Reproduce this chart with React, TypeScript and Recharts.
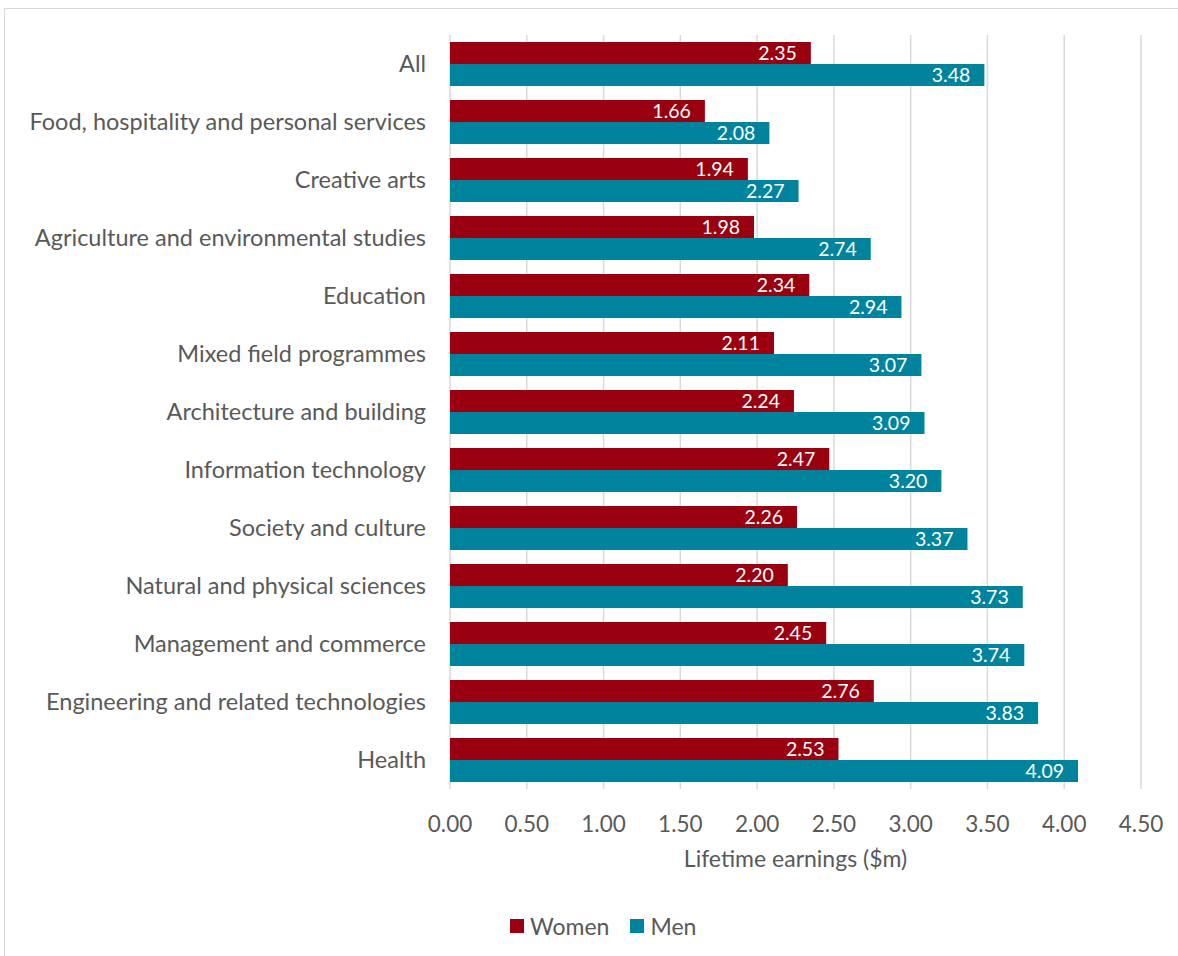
import { Bar, BarChart, CartesianGrid, LabelList, XAxis, YAxis } from "recharts";

const fields = [
  "All",
  "Food, hospitality and personal services",
  "Creative arts",
  "Agriculture and environmental studies",
  "Education",
  "Mixed field programmes",
  "Architecture and building",
  "Information technology",
  "Society and culture",
  "Natural and physical sciences",
  "Management and commerce",
  "Engineering and related technologies",
  "Health",
];
const women = [2.35, 1.66, 1.94, 1.98, 2.34, 2.11, 2.24, 2.47, 2.26, 2.2, 2.45, 2.76, 2.53];
const men = [3.48, 2.08, 2.27, 2.74, 2.94, 3.07, 3.09, 3.2, 3.37, 3.73, 3.74, 3.83, 4.09];
const xTicks = [0, 0.5, 1, 1.5, 2, 2.5, 3, 3.5, 4, 4.5];

const data = fields.map((field, i) => ({ field, women: women[i], men: men[i] }));

const RED = "#990010";
const TEAL = "#00849e";
const TEXT = "#595959";
const FONT = "Lato, 'Open Sans', sans-serif";

const fmt = (v: number) => v.toFixed(2);

function LegendBox() {
  const item = (color: string, label: string) => (
    <span style={{ display: "inline-flex", alignItems: "center", marginRight: 21 }}>
      <span style={{ width: 14, height: 14, background: color, display: "inline-block", marginRight: 6 }} />
      {label}
    </span>
  );
  return (
    <div
      style={{
        position: "absolute",
        left: 510,
        top: 912,
        fontFamily: FONT,
        fontSize: 23,
        color: TEXT,
        display: "flex",
        whiteSpace: "nowrap",
      }}
    >
      {item(RED, "Women")}
      {item(TEAL, "Men")}
    </div>
  );
}

export default function App() {
  return (
    <div style={{ position: "absolute", left: 0, top: 0, width: 1178, height: 956, background: "#fff", overflow: "hidden" }}>
      <div
        style={{
          position: "absolute",
          left: 4,
          top: 8,
          width: 1200,
          height: 1000,
          border: "1px solid #d9d9d9",
          boxSizing: "border-box",
        }}
      />
      <div style={{ position: "absolute", left: 0, top: 0 }}>
        <BarChart
          width={1178}
          height={956}
          data={data}
          layout="vertical"
          margin={{ top: 35, right: 37, bottom: 107, left: 0 }}
          barCategoryGap={7}
          barGap={0}
        >
          <CartesianGrid horizontal={false} stroke="#d9d9d9" strokeWidth={1.5} />
          <XAxis
            type="number"
            domain={[0, 4.5]}
            ticks={xTicks}
            tickFormatter={fmt}
            axisLine={false}
            tickLine={false}
            height={60}
            tickMargin={21}
            interval={0}
            tick={{ fontSize: 22.5, fill: TEXT, fontFamily: FONT }}
            label={{
              value: "Lifetime earnings ($m)",
              position: "insideBottom",
              offset: -18,
              fontSize: 23,
              fill: TEXT,
              fontFamily: FONT,
            }}
          />
          <YAxis
            type="category"
            dataKey="field"
            width={450}
            axisLine={false}
            tickLine={false}
            tickMargin={18}
            interval={0}
            tick={{ fontSize: 23.5, fill: TEXT, fontFamily: FONT }}
          />
          <Bar dataKey="women" name="Women" fill={RED} isAnimationActive={false}>
            <LabelList
              dataKey="women"
              position="insideRight"
              offset={14}
              formatter={(v: any) => fmt(Number(v))}
              style={{ fill: "#fff", fontSize: 19.5, fontFamily: FONT }}
            />
          </Bar>
          <Bar dataKey="men" name="Men" fill={TEAL} isAnimationActive={false}>
            <LabelList
              dataKey="men"
              position="insideRight"
              offset={14}
              formatter={(v: any) => fmt(Number(v))}
              style={{ fill: "#fff", fontSize: 19.5, fontFamily: FONT }}
            />
          </Bar>
        </BarChart>
      </div>
      <LegendBox />
    </div>
  );
}
